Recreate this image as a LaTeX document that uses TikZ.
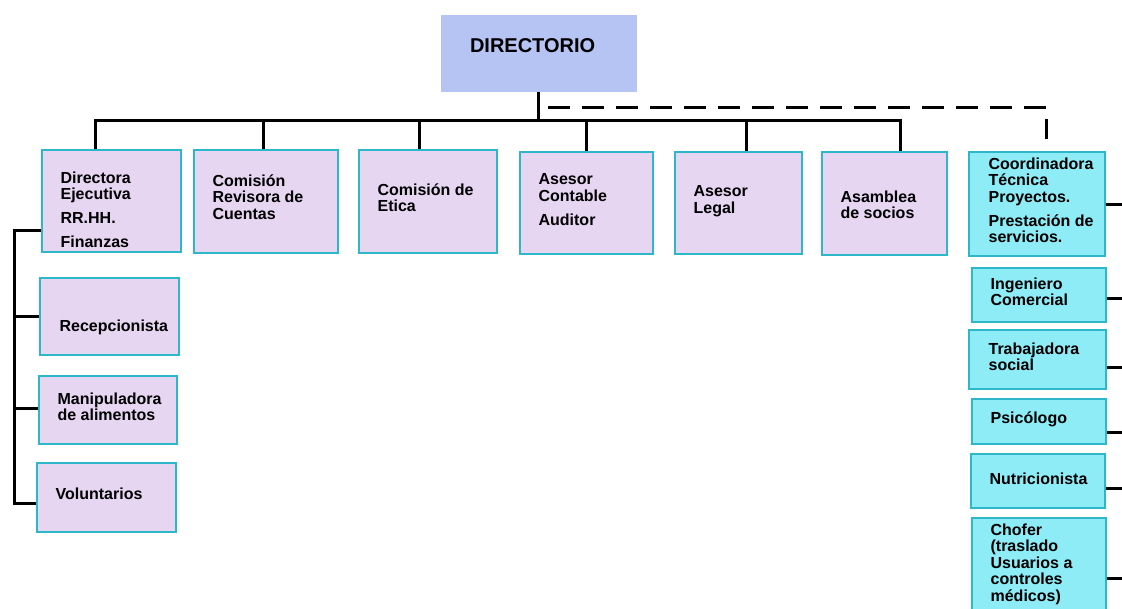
\documentclass[tikz,border=0pt]{standalone}
\usepackage{fontspec}
\setmainfont{Liberation Sans}
\usetikzlibrary{positioning}

\definecolor{dirblue}{RGB}{182,196,243}
\definecolor{boxlilac}{RGB}{230,214,242}
\definecolor{boxcyan}{RGB}{142,236,246}
\definecolor{boxline}{RGB}{44,184,200}

\tikzset{
  unit/.style={draw=boxline, line width=1.2pt, fill=boxlilac, inner sep=0pt},
  staff/.style={unit, fill=boxcyan},
  boxtext/.style={align=left, inner sep=0pt, font=\bfseries\fontsize{16}{16.5}\selectfont},
  link/.style={line width=3pt, black},
  dashlink/.style={link, dash pattern=on 22pt off 12pt},
}

\begin{document}
\begin{tikzpicture}[x=1pt, y=-1pt]
  \useasboundingbox (0,0) rectangle (1122,608);

  % top
  \node[fill=dirblue, inner sep=0pt, minimum width=196pt, minimum height=77pt] (top) at (539, 53.5) {};
  \node[boxtext, font=\bfseries\fontsize{20}{24}\selectfont, below right=24pt and 29pt of top.north west] (top-t) {DIRECTORIO};

  % first row
  \node[unit, minimum width=139pt, minimum height=102pt] (dir) at (111.5, 201) {};
  \node[unit, minimum width=144pt, minimum height=103pt] (rev) at (266, 201.5) {};
  \node[unit, minimum width=138pt, minimum height=103pt] (eti) at (428, 201.5) {};
  \node[unit, minimum width=133pt, minimum height=102pt] (cont) at (586.5, 203) {};
  \node[unit, minimum width=127pt, minimum height=102pt] (legal) at (738.5, 203) {};
  \node[unit, minimum width=125pt, minimum height=103pt] (asam) at (884.5, 203.5) {};
  \node[staff, minimum width=136pt, minimum height=104pt] (coord) at (1037, 204) {};

  \node[boxtext, below right=22pt and 19pt of dir.north west] (dir-t) {Directora\\Ejecutiva\\[7.5pt]RR.HH.\\[7.5pt]Finanzas};
  \node[boxtext, below right=25pt and 19pt of rev.north west] (rev-t) {Comisión\\Revisora de\\Cuentas};
  \node[boxtext, below right=34pt and 19pt of eti.north west] (eti-t) {Comisión de\\Etica};
  \node[boxtext, below right=22pt and 19pt of cont.north west] (cont-t) {Asesor\\Contable\\[7.5pt]Auditor};
  \node[boxtext, below right=34pt and 19pt of legal.north west] (legal-t) {Asesor\\Legal};
  \node[boxtext, below right=39pt and 19pt of asam.north west] (asam-t) {Asamblea\\de socios};
  \node[boxtext, below right=6pt and 20pt of coord.north west] (coord-t) {Coordinadora\\Técnica\\Proyectos.\\[7.5pt]Prestación de\\servicios.};

  % left column
  \node[unit, minimum width=139pt, minimum height=77pt] (recep) at (109.5, 316.5) {};
  \node[unit, minimum width=138pt, minimum height=68pt] (manip) at (108, 410) {};
  \node[unit, minimum width=139pt, minimum height=69pt] (vol) at (106.5, 497.5) {};

  \node[boxtext, below right=42pt and 20pt of recep.north west] (recep-t) {Recepcionista};
  \node[boxtext, below right=17pt and 19pt of manip.north west] (manip-t) {Manipuladora\\de alimentos};
  \node[boxtext, below right=25pt and 19pt of vol.north west] (vol-t) {Voluntarios};

  % right column
  \node[staff, minimum width=134pt, minimum height=54pt] (ing) at (1039, 295) {};
  \node[staff, minimum width=137pt, minimum height=59pt] (trab) at (1037.5, 359.5) {};
  \node[staff, minimum width=134pt, minimum height=45pt] (psi) at (1039, 421.5) {};
  \node[staff, minimum width=134pt, minimum height=54pt] (nut) at (1038, 481) {};
  \node[staff, minimum width=134pt, minimum height=96pt] (chof) at (1039, 566) {};

  \node[boxtext, below right=10pt and 19pt of ing.north west] (ing-t) {Ingeniero\\Comercial};
  \node[boxtext, below right=13pt and 20pt of trab.north west] (trab-t) {Trabajadora\\social};
  \node[boxtext, below right=13pt and 19pt of psi.north west] (psi-t) {Psicólogo};
  \node[boxtext, below right=19pt and 19pt of nut.north west] (nut-t) {Nutricionista};
  \node[boxtext, below right=6pt and 19pt of chof.north west] (chof-t) {Chofer\\(traslado\\Usuarios a\\controles\\médicos)};

  % connectors
  \coordinate (bus) at (538, 120);
  \coordinate (dstart) at (548, 107);
  \coordinate (lbus) at (14, 230);
  \coordinate (lend) at (14, 503);
  \coordinate (redge) at (1126, 0);

  \draw[link] (top.south -| bus) -- (bus);
  \draw[link] ([xshift=-16.5pt]dir.north) |- (bus) -| ([xshift=15.5pt]asam.north);
  \draw[link] ([xshift=-3pt]rev.north) -- ([xshift=-3pt]rev.north |- bus);
  \draw[link] ([xshift=-9pt]eti.north) -- ([xshift=-9pt]eti.north |- bus);
  \draw[link] (cont.north) -- (cont.north |- bus);
  \draw[link] ([xshift=7.5pt]legal.north) -- ([xshift=7.5pt]legal.north |- bus);
  \draw[dashlink] (dstart) -| ([xshift=9pt, yshift=12pt]coord.north);

  \draw[link] ([yshift=-29pt]dir.west) -| (lend) -- (lend -| vol.west);
  \draw[link] (recep.west -| lbus) -- (recep.west);
  \draw[link] ([yshift=2pt]manip.west -| lbus) -- ([yshift=2pt]manip.west);

  \draw[link] (coord.east) -- (coord.east -| redge);
  \draw[link] ([yshift=-3pt]ing.east) -- ([yshift=-3pt]ing.east -| redge);
  \draw[link] ([yshift=-7.5pt]trab.east) -- ([yshift=-7.5pt]trab.east -| redge);
  \draw[link] ([yshift=-10.5pt]psi.east) -- ([yshift=-10.5pt]psi.east -| redge);
  \draw[link] ([yshift=-7pt]nut.east) -- ([yshift=-7pt]nut.east -| redge);
  \draw[link] ([yshift=-12pt]chof.east) -- ([yshift=-12pt]chof.east -| redge);
\end{tikzpicture}
\end{document}
